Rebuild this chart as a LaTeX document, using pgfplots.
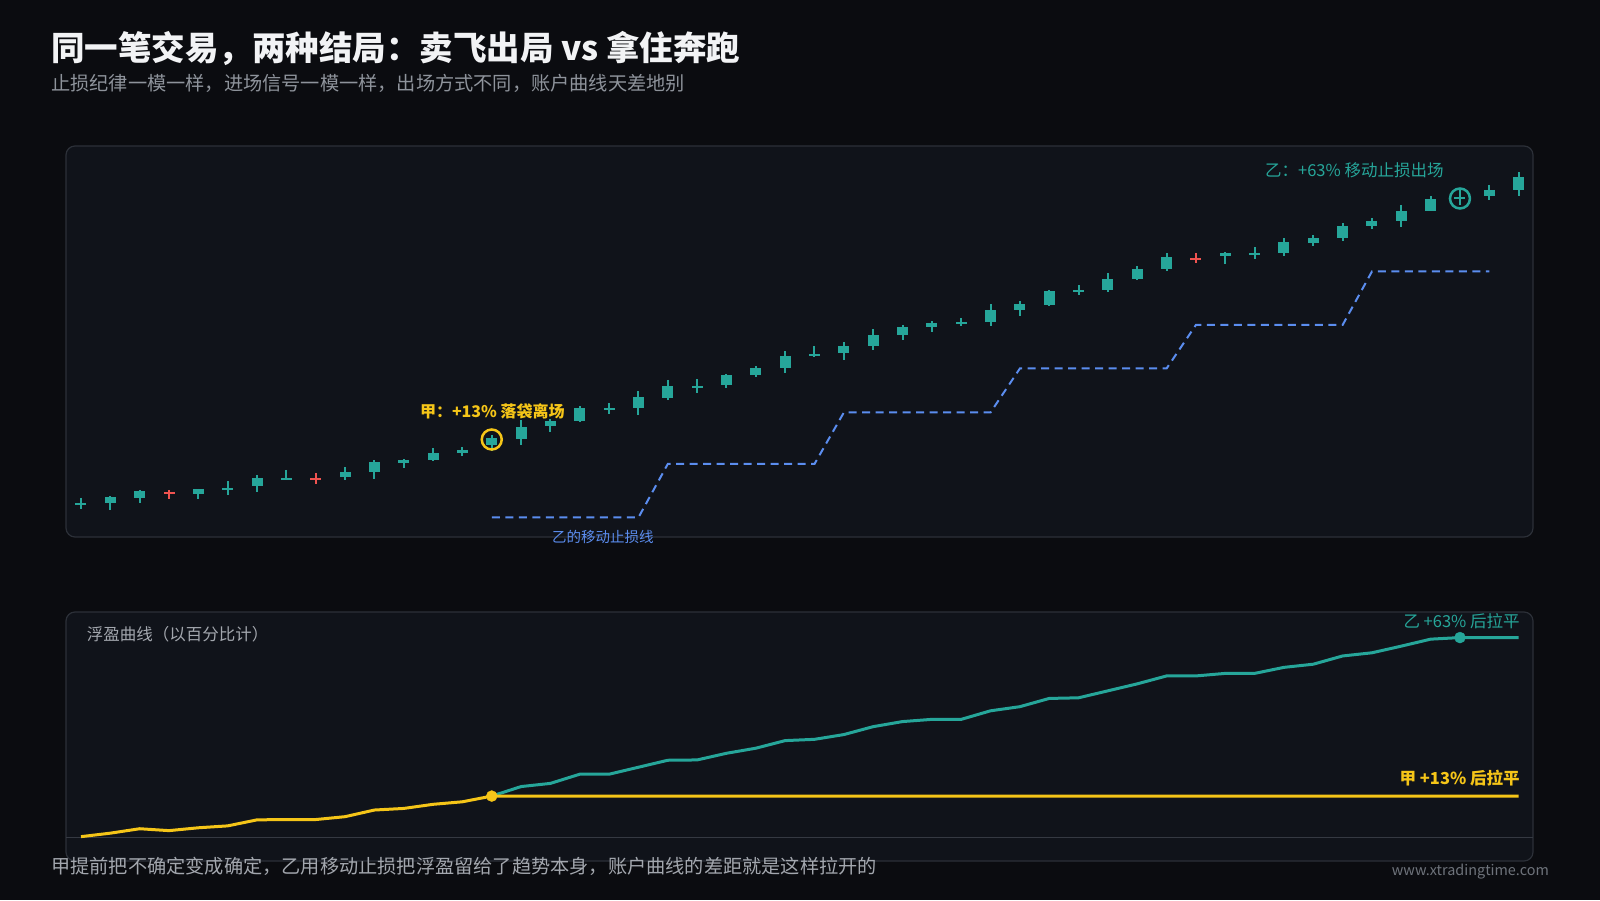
\documentclass[border=0pt]{standalone}
\usepackage{fontspec}
\setmainfont{Noto Sans CJK SC}
\usepackage{pgfplots}
\pgfplotsset{compat=1.18}
\usepackage{pgfplotstable}

\definecolor{bg}{HTML}{0B0C10}
\definecolor{panel}{HTML}{10131A}
\definecolor{pborder}{HTML}{2C3038}
\definecolor{baseln}{HTML}{353942}
\definecolor{up}{HTML}{26A69A}
\definecolor{down}{HTML}{EF5350}
\definecolor{gold}{HTML}{F5C518}
\definecolor{stopblue}{HTML}{5B8DEF}
\definecolor{titlec}{HTML}{F2F3F5}
\definecolor{subc}{HTML}{8E939B}
\definecolor{footc}{HTML}{A3A7AE}
\definecolor{webc}{HTML}{6E737B}

% candles: index, open, high, low, close
\pgfplotstableread{
i O H L C
0 99.3 100.4 98.2 99.3
1 99.3 100.7 98.0 100.5
2 100.3 102.0 99.4 101.7
4 101.2 102.2 100.2 102.2
5 102.3 103.7 100.9 102.3
6 102.7 105.0 101.5 104.3
7 104.3 106.0 104.2 104.3
9 104.5 106.5 103.9 105.5
10 105.5 107.9 104.1 107.5
11 107.3 108.1 106.3 108.0
12 108.0 110.3 107.7 109.3
13 109.3 110.5 108.8 110.0
14 111.0 113.0 109.7 112.3
15 112.1 116.0 111.0 114.5
16 114.7 116.1 113.5 115.7
17 115.7 118.7 115.5 118.3
18 118.3 119.3 117.2 118.3
19 118.3 121.7 117.0 120.5
20 120.3 124.0 120.0 122.7
21 122.8 124.1 121.3 122.8
22 122.9 125.1 122.3 124.9
23 124.9 126.7 124.5 126.3
24 126.3 129.7 125.3 128.8
25 129.1 130.7 128.5 129.1
26 129.3 131.5 127.9 130.7
27 130.7 134.1 129.9 132.9
28 133.0 135.0 132.0 134.5
29 134.5 135.7 133.5 135.3
30 135.5 136.3 134.7 135.5
31 135.5 139.1 134.8 137.9
32 137.9 139.8 136.7 139.1
33 139.0 142.0 138.8 141.7
34 141.9 142.9 140.9 141.9
35 141.9 145.3 141.5 144.1
36 144.1 146.8 143.9 146.1
37 146.1 149.3 145.7 148.5
39 148.7 149.5 147.2 149.3
40 149.3 150.5 148.1 149.3
41 149.3 152.3 148.7 151.5
42 151.3 152.9 150.8 152.4
43 152.3 155.3 151.8 154.8
44 154.8 156.3 154.1 155.8
45 155.8 159.0 154.5 157.8
46 157.8 160.8 157.7 160.1
47 160.2 162.0 159.0 160.5
48 160.7 163.0 159.9 162.0
49 162.0 165.5 160.7 164.5
}\greencandles

\pgfplotstableread{
i O H L C
3 101.6 102.0 100.2 101.5
8 104.4 105.3 103.2 104.3
38 148.4 149.3 147.3 148.3
}\redcandles

% trailing stop of B
\pgfplotstableread{
i S
14 96.5
19 96.5
20 107.2
25 107.2
26 117.5
31 117.5
32 126.3
37 126.3
38 135.0
43 135.0
44 145.7
48 145.7
}\stopline

% floating profit, percent
\pgfplotstableread{
i P
0 0.2
1 1.3
2 2.7
3 2.1
4 3.0
5 3.6
6 5.5
7 5.6
8 5.6
9 6.5
10 8.6
11 9.1
12 10.4
13 11.2
14 13.0
49 13.0
}\equityA

\pgfplotstableread{
i P
14 13.0
15 16.0
16 17.0
17 19.9
18 19.9
19 22.1
20 24.3
21 24.4
22 26.5
23 28.1
24 30.5
25 30.9
26 32.4
27 34.9
28 36.5
29 37.2
30 37.2
31 39.9
32 41.2
33 43.8
34 44.0
35 46.2
36 48.4
37 50.9
38 50.9
39 51.7
40 51.7
41 53.6
42 54.6
43 57.2
44 58.2
45 60.3
46 62.5
47 63.0
48 63.0
49 63.0
}\equityB

\pgfplotsset{
  panelaxis/.style={scale only axis, width=1467pt, hide axis, clip=false,
    xmin=-0.511, xmax=49.489, anchor=south west},
  wick/.style={draw=none, mark=none, forget plot,
    error bars/.cd, y dir=minus, y explicit, error mark=none,
    error bar style={draw=#1, line width=2pt, solid}},
  body/.style={draw=none, mark=none, forget plot,
    error bars/.cd, y dir=minus, y explicit, error mark=none,
    error bar style={draw=#1, line width=11pt, solid}},
}

\begin{document}
\begin{tikzpicture}
\useasboundingbox (0pt,0pt) rectangle (1600pt,900pt);
\fill[bg] (0pt,0pt) rectangle (1600pt,900pt);

% panels
\filldraw[fill=panel, draw=pborder, line width=1.2pt, rounded corners=9pt]
  (66pt,363pt) rectangle (1533pt,754pt);
\filldraw[fill=panel, draw=pborder, line width=1.2pt, rounded corners=9pt]
  (66pt,39pt) rectangle (1533pt,288pt);

% titles
\node[anchor=west, inner sep=0pt, text=titlec, font=\fontsize{33.5}{40}\selectfont\bfseries]
  at (51pt,852pt) {同一笔交易，两种结局：卖飞出局 vs 拿住奔跑};
\node[anchor=west, inner sep=0pt, text=subc, font=\fontsize{19.2}{24}\selectfont]
  at (51pt,816.3pt) {止损纪律一模一样，进场信号一模一样，出场方式不同，账户曲线天差地别};

% ---------- price panel ----------
\begin{axis}[panelaxis, at={(66pt,363pt)}, height=391pt, ymin=92.6, ymax=170.8]
  \addplot[wick=up] table[x=i, y=H, y error minus expr={\thisrow{H}-\thisrow{L}}] {\greencandles};
  \addplot[wick=down] table[x=i, y=H, y error minus expr={\thisrow{H}-\thisrow{L}}] {\redcandles};
  \addplot[body=up] table[x=i, y expr={max(\thisrow{O},\thisrow{C})},
     y error minus expr={max(abs(\thisrow{C}-\thisrow{O}),0.4)}] {\greencandles};
  \addplot[body=down] table[x=i, y expr={max(\thisrow{O},\thisrow{C})},
     y error minus expr={max(abs(\thisrow{C}-\thisrow{O}),0.4)}] {\redcandles};
  \addplot[stopblue, line width=2pt, dash pattern=on 8pt off 5.5pt, mark=none]
     table[x=i, y=S] {\stopline};
  \addplot[only marks, mark=o, mark size=10pt, gold, line width=2.5pt] coordinates {(14,112.1)};
  \addplot[only marks, mark=o, mark size=10pt, up, line width=2.5pt] coordinates {(47,160.3)};
  \node[text=gold, font=\fontsize{16}{20}\selectfont\bfseries, inner sep=0pt]
     at (axis cs:14.02,117.66) {甲：+13\% 落袋离场};
  \node[text=up, font=\fontsize{16.5}{20}\selectfont, inner sep=0pt]
     at (axis cs:43.4,166) {乙：+63\% 移动止损出场};
  \node[text=stopblue, font=\fontsize{14.5}{18}\selectfont, inner sep=0pt]
     at (axis cs:17.79,92.66) {乙的移动止损线};
\end{axis}

% ---------- equity panel ----------
\begin{axis}[panelaxis, at={(66pt,39pt)}, height=249pt, ymin=-7.48, ymax=71.07]
  \addplot[baseln, line width=1.2pt, mark=none] coordinates {(-0.511,0) (49.489,0)};
  \addplot[up, line width=3pt, mark=none, line join=round] table[x=i, y=P] {\equityB};
  \addplot[gold, line width=3pt, mark=none, line join=round] table[x=i, y=P] {\equityA};
  \addplot[only marks, mark=*, mark size=5.5pt, gold, draw=none] coordinates {(14,13)};
  \addplot[only marks, mark=*, mark size=5.5pt, up, draw=none] coordinates {(47,63)};
  \node[anchor=east, text=up, font=\fontsize{16.5}{20}\selectfont, inner sep=0pt]
     at (axis cs:49.04,68.3) {乙 +63\% 后拉平};
  \node[anchor=east, text=gold, font=\fontsize{16.5}{20}\selectfont\bfseries, inner sep=0pt]
     at (axis cs:49.04,18.8) {甲 +13\% 后拉平};
\end{axis}

\node[anchor=west, inner sep=0pt, text=footc, font=\fontsize{16.5}{20}\selectfont]
  at (86.7pt,265.3pt) {浮盈曲线（以百分比计）};

% footer
\node[anchor=west, inner sep=0pt, text=footc, font=\fontsize{19.2}{24}\selectfont]
  at (51pt,33.7pt) {甲提前把不确定变成确定，乙用移动止损把浮盈留给了趋势本身，账户曲线的差距就是这样拉开的};
\node[anchor=east, inner sep=0pt, text=webc, font=\fontsize{14.4}{18}\selectfont]
  at (1549pt,28.6pt) {www.xtradingtime.com};
\end{tikzpicture}
\end{document}
